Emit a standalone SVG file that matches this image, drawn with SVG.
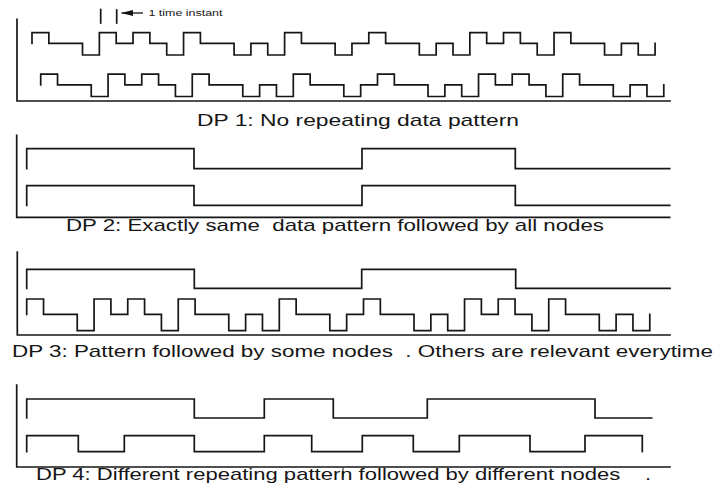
<svg xmlns="http://www.w3.org/2000/svg" xmlns:xlink="http://www.w3.org/1999/xlink" width="718" height="495" viewBox="0 0 718 495">
  <style>
    .ln { fill: none; stroke: #161616; stroke-width: 1.7; stroke-linejoin: miter; stroke-linecap: square; }
    .lbl { font-family: "Liberation Sans", Arial, sans-serif; font-size: 17px; fill: #161616; }
    .note { font-family: "Liberation Sans", Arial, sans-serif; font-size: 8.5px; fill: #161616; }
  </style>
  <defs>
    <!-- three-level random sequence, one step per time instant (16.84 px) -->
    <path id="seqA" d="M32,43.3 V32.7 H48.84 V43.3 H82.52 V55 H99.36 V32.7 H116.2 V43.3 H133.04 V32.7 H149.88 V43.3 H166.72 V55 H183.56 V32.7 H200.4 V43.3 H234.08 V55 H250.92 V43.3 H267.76 V55 H284.6 V32.7 H301.44 V43.3 H335.12 V55 H351.96 V43.3 H368.8 V32.7 H385.64 V43.3 H419.32 V55 H436.16 V43.3 H453 V55 H469.84 V32.7 H486.68 V43.3 H503.52 V32.7 H520.36 V43.3 H537.2 V55 H554.04 V32.7 H570.88 V43.3 H604.56 V55 H621.4 V43.3 H638.24 V55 H655.08 V43.3"/>
    <!-- filled arrowhead, tip at the line end -->
    <marker id="arrowL" markerWidth="12" markerHeight="8" refX="11.5" refY="4" orient="auto" markerUnits="userSpaceOnUse">
      <path d="M12,4 L0,1 L0,7 Z" fill="#161616"/>
    </marker>
  </defs>

  <!-- DP 1 -->
  <g id="dp1">
    <path class="ln" d="M17,19.3 V101 H670"/>
    <use xlink:href="#seqA" class="ln"/>
    <use xlink:href="#seqA" class="ln" transform="translate(8.7,41.5)"/>
    <line class="ln" x1="100.7" y1="9.5" x2="100.7" y2="23"/>
    <line class="ln" x1="116.7" y1="10" x2="116.7" y2="23"/>
    <text class="lbl" x="197" y="126" textLength="322" lengthAdjust="spacingAndGlyphs">DP 1: No repeating data pattern</text>
  </g>

  <!-- time-instant annotation -->
  <g id="connectors">
    <line x1="143" y1="13" x2="121.5" y2="13" stroke="#161616" stroke-width="1.3" marker-end="url(#arrowL)"/>
  </g>
  <g id="time-note">
    <text class="note" x="148.5" y="16" textLength="74" lengthAdjust="spacingAndGlyphs">1 time instant</text>
  </g>

  <!-- DP 2 -->
  <g id="dp2">
    <path class="ln" d="M16.7,135.3 V217.3 H669.7"/>
    <path class="ln" d="M26.7,168.7 V148.7 H194 V168.7 H362 V148.7 H515.3 V168.7 H669.7"/>
    <path class="ln" d="M26.7,205.3 V185.7 H194 V205.3 H362 V185.7 H515.3 V205.3 H669.7"/>
    <text class="lbl" x="66" y="231.3" textLength="538" lengthAdjust="spacingAndGlyphs" xml:space="preserve">DP 2: Exactly same  data pattern followed by all nodes</text>
  </g>

  <!-- DP 3 -->
  <g id="dp3">
    <path class="ln" d="M17.3,252 V335 H670"/>
    <path class="ln" d="M26.7,288.3 V269.3 H194.3 V288.3 H361.7 V269.3 H515.7 V288.3 H670"/>
    <path class="ln" transform="translate(-5.3,0)" d="M32,314.3 V299 H48.84 V314.3 H82.52 V330.7 H99.36 V299 H116.2 V314.3 H133.04 V299 H149.88 V314.3 H166.72 V330.7 H183.56 V299 H200.4 V314.3 H234.08 V330.7 H250.92 V314.3 H267.76 V330.7 H284.6 V299 H301.44 V314.3 H335.12 V330.7 H351.96 V314.3 H368.8 V299 H385.64 V314.3 H419.32 V330.7 H436.16 V314.3 H453 V330.7 H469.84 V299 H486.68 V314.3 H503.52 V299 H520.36 V314.3 H537.2 V330.7 H554.04 V299 H570.88 V314.3 H604.56 V330.7 H621.4 V314.3 H638.24 V330.7 H655.08 V314.3"/>
    <text class="lbl" x="12" y="356.7" textLength="701" lengthAdjust="spacingAndGlyphs" xml:space="preserve">DP 3: Pattern followed by some nodes  . Others are relevant everytime</text>
  </g>

  <!-- DP 4 -->
  <g id="dp4">
    <path class="ln" d="M16.7,385 V467 H670"/>
    <path class="ln" d="M26.7,418 V399 H194.3 V418 H264.3 V399 H333.3 V418 H427.3 V399 H595 V418 H651.7"/>
    <path class="ln" d="M26.7,451.7 V435.7 H78.3 V451.7 H124.3 V435.7 H194.3 V451.7 H264.3 V435.7 H311.7 V451.7 H362.3 V435.7 H413.3 V451.7 H459.3 V435.7 H530 V451.7 H585 V435.7 H642.3 V451.7"/>
    <line x1="343" y1="468" x2="343" y2="476.5" stroke="#161616" stroke-width="1"/>
    <text class="lbl" x="36" y="480" textLength="615" lengthAdjust="spacingAndGlyphs" xml:space="preserve">DP 4: Different repeating pattern followed by different nodes    .</text>
  </g>
</svg>
